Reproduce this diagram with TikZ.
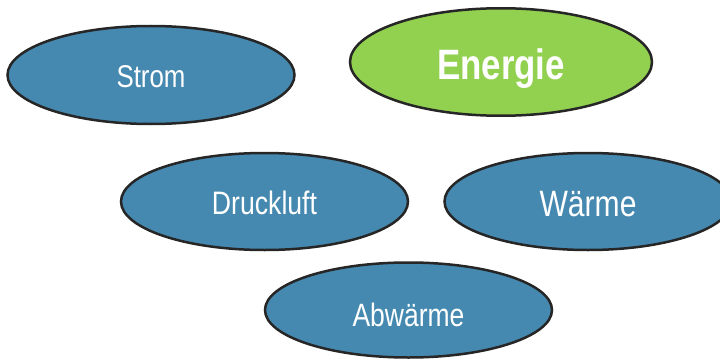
\documentclass[tikz,border=0pt]{standalone}
\usepackage{fontspec}
\setmainfont{Liberation Sans}
\usetikzlibrary{shapes.geometric}
\definecolor{bubbleblue}{RGB}{70,137,176}
\definecolor{bubblegreen}{RGB}{146,208,80}
\definecolor{rim}{RGB}{38,38,38}
\newcommand{\narrowtxt}[1]{\scalebox{0.82}[1]{#1}}
\tikzset{
  bubble/.style={ellipse, draw=rim, line width=2.5pt, fill=bubbleblue,
    inner sep=0pt, text=white, text depth=0pt,
    minimum width=287pt, minimum height=97pt},
  keybubble/.style={bubble, fill=bubblegreen}
}
\begin{document}
\begin{tikzpicture}[x=1pt,y=-1pt]
  \useasboundingbox (0,0) rectangle (720,361);
  \clip (0,0) rectangle (720,361);
  \node[bubble, minimum height=98pt, text height=26pt,
        font=\fontsize{31.5}{36}\selectfont] (strom) at (151,75) {\narrowtxt{Strom}};
  \node[keybubble, minimum width=302pt, minimum height=107.5pt, text height=34pt,
        font=\fontsize{42.5}{48}\selectfont\bfseries] (energie) at (501,62) {\narrowtxt{Energie}};
  \node[bubble, text height=25pt,
        font=\fontsize{32.5}{38}\selectfont] (druckluft) at (264.5,201.5) {\narrowtxt{Druckluft}};
  \node[bubble, text height=29pt,
        font=\fontsize{36.7}{42}\selectfont] (waerme) at (588,201.5) {\narrowtxt{Wärme}};
  \node[bubble, minimum height=95pt, text height=32pt,
        font=\fontsize{32.3}{38}\selectfont] (abwaerme) at (408.5,310) {\narrowtxt{Abwärme}};
\end{tikzpicture}
\end{document}
